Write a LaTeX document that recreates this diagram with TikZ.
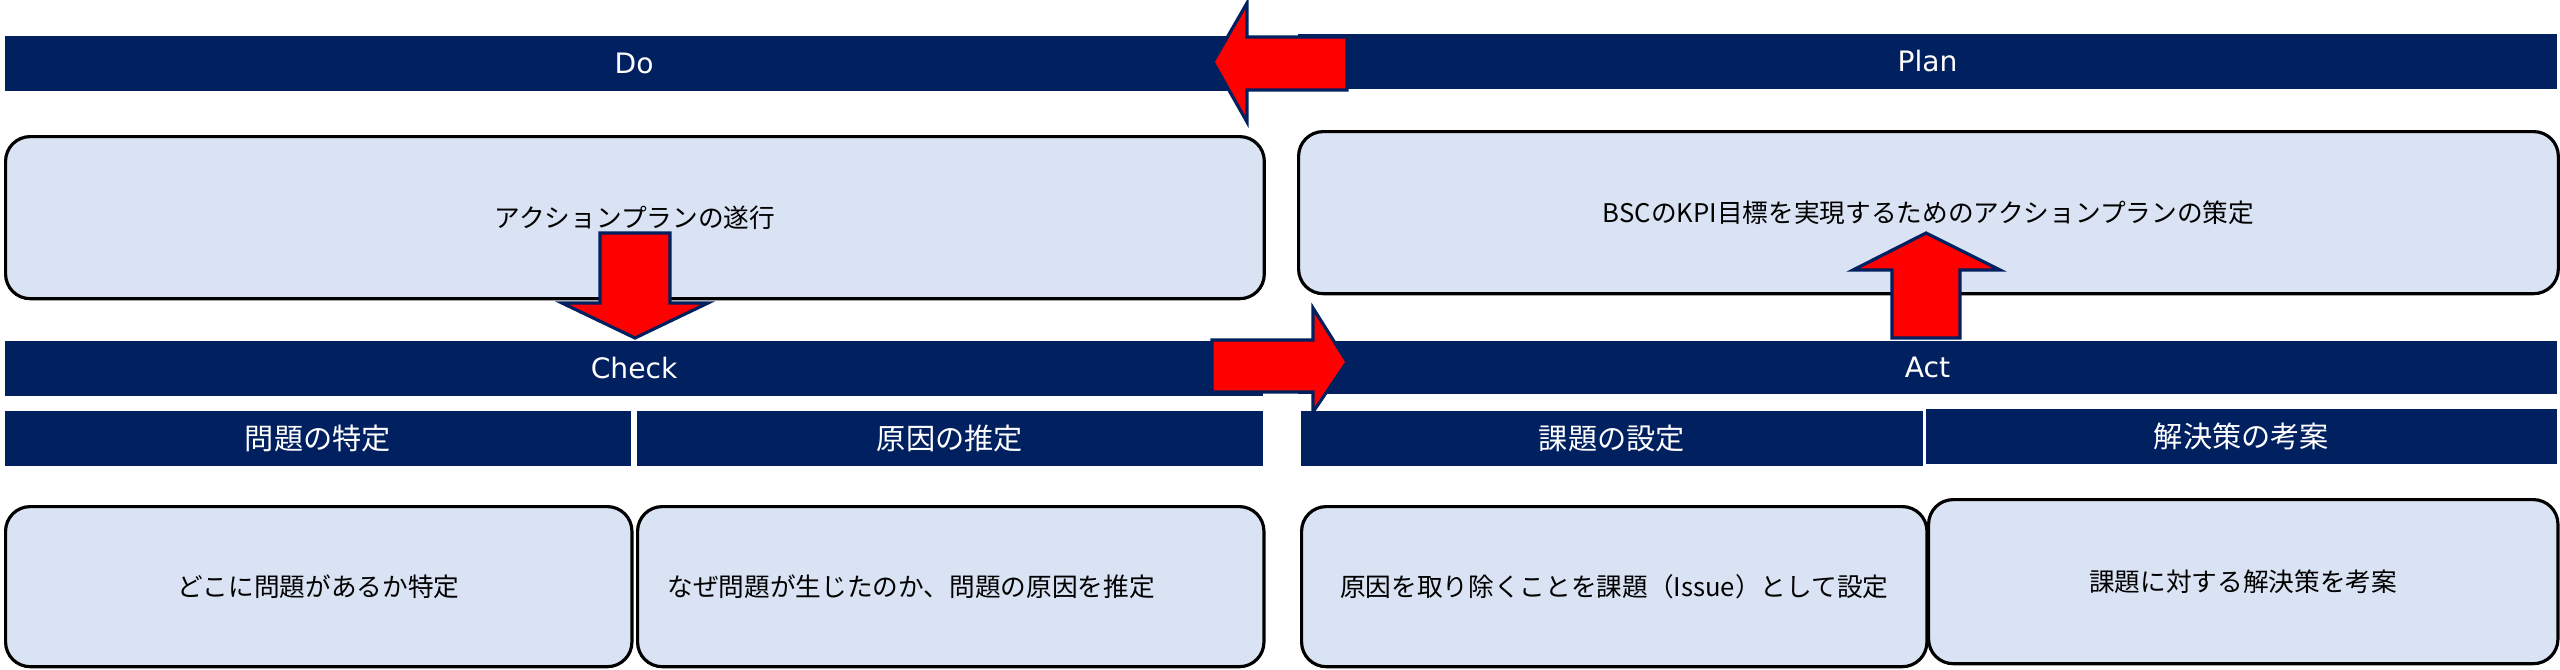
\documentclass[tikz,border=0pt]{standalone}
\usepackage{fontspec}
\setmainfont{Noto Sans CJK JP}
\newfontfamily\pdcafont{DejaVu Sans}
\definecolor{navy}{HTML}{002060}
\definecolor{boxblue}{HTML}{DAE3F3}
\tikzset{
  phasebar/.style={fill=navy, text=white, anchor=north west, inner sep=0pt, minimum height=0.55cm, font=\pdcafont\fontsize{8}{10}\selectfont},
  stepbar/.style={fill=navy, text=white, anchor=north west, inner sep=0pt, minimum height=0.55cm, font=\fontsize{8.3}{10}\selectfont},
  stepbox/.style={draw=black, line width=0.9pt, fill=boxblue, rounded corners=7pt, anchor=north west, inner sep=0pt, font=\fontsize{7.3}{9}\selectfont},
  blockarrow/.style={fill=red, draw=navy, line width=0.9pt, line join=miter}
}
\begin{document}
\begin{tikzpicture}[x=0.01cm,y=-0.01cm]
\useasboundingbox (0,0) rectangle (2560,669);

% phases
\node[phasebar, minimum width=12.58cm] (do) at (4,35) {Do};
\node[phasebar, minimum width=12.59cm] (plan) at (1297,33) {Plan};
\node[phasebar, minimum width=12.58cm] (check) at (4,340) {Check};
\node[phasebar, minimum width=12.59cm, minimum height=0.53cm] (act) at (1297,340) {Act};

\node[stepbox, minimum width=12.58cm, minimum height=1.62cm] (doBox) at (4,135) {アクションプランの遂行};
\node[stepbox, minimum width=12.59cm, minimum height=1.62cm] (planBox) at (1297,130) {BSCのKPI目標を実現するためのアクションプランの策定};

% check / act steps
\node[stepbar, minimum width=6.26cm] (find) at (4,410) {問題の特定};
\node[stepbar, minimum width=6.26cm] (cause) at (636,410) {原因の推定};
\node[stepbar, minimum width=6.22cm] (issue) at (1300,410) {課題の設定};
\node[stepbar, minimum width=6.31cm] (solve) at (1925,408) {解決策の考案};

\node[stepbox, minimum width=6.26cm, minimum height=1.6cm] (findBox) at (4,505) {どこに問題があるか特定};
\node[stepbox, minimum width=6.26cm, minimum height=1.6cm, text width=5.66cm, align=left] (causeBox) at (636,505) {なぜ問題が生じたのか、問題の原因を推定};
\node[stepbox, minimum width=6.25cm, minimum height=1.6cm] (issueBox) at (1300,505) {原因を取り除くことを課題（Issue）として設定};
\node[stepbox, minimum width=6.29cm, minimum height=1.64cm] (solveBox) at (1927,498) {課題に対する解決策を考案};

% cycle arrows
\draw[blockarrow] (1213,62) -- (1247,3) -- (1247,37) -- (1347,37) -- (1347,90) -- (1247,90) -- (1247,122) -- cycle;
\draw[blockarrow] (600,233) -- (670,233) -- (670,303) -- (708,303) -- (635,338) -- (562,303) -- (600,303) -- cycle;
\draw[blockarrow] (1212,340) -- (1313,340) -- (1313,308) -- (1347,362) -- (1313,412) -- (1313,392) -- (1212,392) -- cycle;
\draw[blockarrow] (1892,338) -- (1892,270) -- (1853,270) -- (1926,233) -- (2000,270) -- (1960,270) -- (1960,338) -- cycle;
\end{tikzpicture}
\end{document}
